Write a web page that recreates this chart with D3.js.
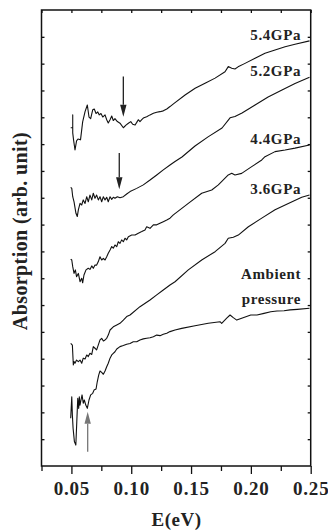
<!DOCTYPE html>
<html lang="en">
<head>
<meta charset="UTF-8">
<title>Absorption under pressure</title>
<style>
  body { margin: 0; background: #fff; }
  svg text {
    font-family: "Liberation Serif", "Times New Roman", serif;
    font-weight: bold;
    fill: #222;
  }
  .axis line { stroke: #111; stroke-width: 1.3; }
  .axis path { display: none; }
  .frame { fill: none; stroke: #111; stroke-width: 1.5; }
  .curve { fill: none; stroke: #111; stroke-width: 1.1; stroke-linejoin: round; }
</style>
</head>
<body>
<div id="chart"></div>
<script src="https://cdnjs.cloudflare.com/ajax/libs/d3/7.8.5/d3.min.js"></script>
<script>
// photon energy (eV) and absorption (arb. unit, one unit = one y tick) for each spectrum
var e54 = [0.0494, 0.0511, 0.0511, 0.0511, 0.0518, 0.0530, 0.0543, 0.0555, 0.0576, 0.0594, 0.0614, 0.0633, 0.0647, 0.0661, 0.0678, 0.0691, 0.0706, 0.0720, 0.0733, 0.0747, 0.0762, 0.0781, 0.0795, 0.0808, 0.0823, 0.0837, 0.0850, 0.0864, 0.0884, 0.0906, 0.0934, 0.0956, 0.0976, 0.0996, 0.1012, 0.1032, 0.1046, 0.1059, 0.1073, 0.1088, 0.1101, 0.1129, 0.1157, 0.1185, 0.1213, 0.1240, 0.1268, 0.1297, 0.1324, 0.1358, 0.1450, 0.1534, 0.1617, 0.1701, 0.1784, 0.1811, 0.1840, 0.1867, 0.1893, 0.1951, 0.2035, 0.2118, 0.2202, 0.2286, 0.2369, 0.2490];
var a54 = [12.61, 12.61, 13.09, 12.42, 12.16, 11.78, 12.12, 12.19, 12.16, 12.83, 13.21, 13.46, 13.01, 12.95, 13.28, 13.31, 13.14, 13.20, 13.09, 13.14, 13.01, 13.09, 12.91, 12.79, 12.91, 13.05, 12.88, 12.95, 12.84, 12.78, 12.61, 12.71, 12.78, 12.84, 12.74, 12.71, 12.81, 12.91, 12.84, 12.91, 12.97, 13.02, 13.09, 13.15, 13.19, 13.21, 13.24, 13.31, 13.40, 13.52, 13.83, 14.08, 14.27, 14.46, 14.70, 14.89, 14.83, 14.80, 14.88, 15.01, 15.20, 15.39, 15.51, 15.63, 15.72, 15.85];

var e52 = [0.0494, 0.0503, 0.0511, 0.0522, 0.0538, 0.0549, 0.0558, 0.0572, 0.0586, 0.0599, 0.0614, 0.0628, 0.0641, 0.0655, 0.0670, 0.0683, 0.0697, 0.0711, 0.0725, 0.0739, 0.0753, 0.0767, 0.0781, 0.0795, 0.0808, 0.0823, 0.0837, 0.0850, 0.0864, 0.0884, 0.0906, 0.0934, 0.0962, 0.0990, 0.1046, 0.1101, 0.1157, 0.1213, 0.1268, 0.1324, 0.1366, 0.1424, 0.1533, 0.1642, 0.1759, 0.1826, 0.1867, 0.1926, 0.2035, 0.2144, 0.2260, 0.2369, 0.2490];
var a52 = [10.39, 10.35, 10.04, 9.85, 9.42, 9.30, 9.55, 9.79, 9.73, 9.92, 9.79, 10.04, 9.85, 10.10, 9.92, 10.17, 9.98, 10.10, 9.92, 10.04, 9.85, 10.04, 9.92, 10.02, 9.85, 10.04, 9.94, 10.02, 9.98, 10.04, 10.00, 10.04, 10.14, 10.23, 10.35, 10.48, 10.66, 10.85, 11.04, 11.22, 11.35, 11.52, 11.93, 12.27, 12.60, 12.98, 13.03, 13.16, 13.46, 13.76, 14.02, 14.26, 14.49];

var e44 = [0.0494, 0.0503, 0.0511, 0.0522, 0.0533, 0.0543, 0.0558, 0.0572, 0.0586, 0.0594, 0.0605, 0.0622, 0.0641, 0.0655, 0.0670, 0.0683, 0.0697, 0.0711, 0.0725, 0.0739, 0.0753, 0.0767, 0.0781, 0.0795, 0.0808, 0.0823, 0.0837, 0.0850, 0.0864, 0.0879, 0.0892, 0.0906, 0.0920, 0.0934, 0.0948, 0.0962, 0.0976, 0.1004, 0.1032, 0.1059, 0.1088, 0.1115, 0.1129, 0.1157, 0.1185, 0.1213, 0.1240, 0.1268, 0.1297, 0.1324, 0.1352, 0.1477, 0.1589, 0.1673, 0.1728, 0.1811, 0.1840, 0.1867, 0.1923, 0.2007, 0.2091, 0.2118, 0.2202, 0.2286, 0.2369, 0.2490];
var a44 = [7.71, 7.68, 7.43, 7.18, 7.31, 7.06, 7.18, 6.87, 7.00, 6.83, 7.12, 7.31, 7.37, 7.33, 7.46, 7.37, 7.49, 7.49, 7.62, 7.80, 7.68, 7.74, 7.68, 7.80, 7.93, 8.05, 8.18, 8.12, 8.24, 8.18, 8.36, 8.30, 8.43, 8.36, 8.49, 8.43, 8.55, 8.61, 8.61, 8.68, 8.74, 8.80, 8.92, 8.86, 8.99, 8.99, 9.05, 9.11, 9.17, 9.24, 9.36, 9.79, 10.17, 10.29, 10.48, 10.85, 10.91, 10.85, 10.91, 11.16, 11.41, 11.53, 11.72, 11.78, 11.85, 11.97];

var e36 = [0.0494, 0.0508, 0.0516, 0.0522, 0.0530, 0.0543, 0.0558, 0.0572, 0.0586, 0.0599, 0.0614, 0.0628, 0.0641, 0.0655, 0.0670, 0.0683, 0.0697, 0.0711, 0.0739, 0.0753, 0.0767, 0.0781, 0.0795, 0.0808, 0.0823, 0.0850, 0.0879, 0.0906, 0.0934, 0.0962, 0.0990, 0.1073, 0.1157, 0.1213, 0.1268, 0.1324, 0.1366, 0.1477, 0.1589, 0.1701, 0.1784, 0.1811, 0.1853, 0.1895, 0.1979, 0.2091, 0.2202, 0.2313, 0.2425, 0.2490];
var a36 = [4.57, 4.51, 3.77, 3.89, 3.83, 3.95, 3.89, 3.95, 3.83, 4.02, 3.99, 4.14, 4.08, 4.20, 4.16, 4.45, 4.39, 4.33, 4.70, 4.76, 4.66, 4.70, 4.76, 4.88, 5.07, 5.19, 5.26, 5.32, 5.44, 5.57, 5.63, 5.94, 6.19, 6.38, 6.56, 6.75, 6.87, 7.31, 7.68, 7.99, 8.30, 8.49, 8.53, 8.61, 8.92, 9.24, 9.55, 9.79, 10.02, 10.10];

var eAmb = [0.0494, 0.0503, 0.0508, 0.0514, 0.0525, 0.0537, 0.0545, 0.0553, 0.0561, 0.0566, 0.0572, 0.0580, 0.0589, 0.0599, 0.0608, 0.0620, 0.0633, 0.0647, 0.0661, 0.0678, 0.0689, 0.0706, 0.0716, 0.0728, 0.0739, 0.0753, 0.0767, 0.0781, 0.0795, 0.0808, 0.0823, 0.0837, 0.0850, 0.0864, 0.0879, 0.0906, 0.0934, 0.0962, 0.0990, 0.1017, 0.1046, 0.1073, 0.1101, 0.1129, 0.1157, 0.1185, 0.1213, 0.1241, 0.1268, 0.1297, 0.1324, 0.1366, 0.1422, 0.1533, 0.1644, 0.1742, 0.1756, 0.1798, 0.1826, 0.1853, 0.1882, 0.1923, 0.1999, 0.2051, 0.2110, 0.2166, 0.2218, 0.2277, 0.2327, 0.2388, 0.2490];
var aAmb = [1.78, 2.58, 1.90, 1.41, 0.91, 0.78, 1.65, 2.52, 2.15, 2.58, 2.27, 2.46, 2.65, 2.34, 2.46, 2.27, 2.15, 2.46, 2.65, 2.71, 2.83, 2.87, 3.14, 3.39, 3.54, 3.49, 3.42, 3.54, 3.70, 3.83, 4.02, 4.14, 4.20, 4.26, 4.36, 4.45, 4.49, 4.54, 4.57, 4.63, 4.63, 4.70, 4.74, 4.76, 4.78, 4.82, 4.88, 4.86, 4.91, 4.95, 5.01, 5.07, 5.13, 5.23, 5.32, 5.38, 5.32, 5.51, 5.63, 5.53, 5.44, 5.51, 5.63, 5.63, 5.69, 5.75, 5.78, 5.79, 5.82, 5.84, 5.88];

var curveE = [e54, e52, e44, e36, eAmb];
var curveA = [a54, a52, a44, a36, aAmb];

// curve labels: text lines, anchor energy (right end), baseline absorption
var labelText = [["5.4GPa"], ["5.2GPa"], ["4.4GPa"], ["3.6GPa"], ["Ambient", "pressure"]];
var labelE = [0.2419, 0.2419, 0.2419, 0.2419, 0.2419];
var labelA = [[15.88], [14.54], [12.01], [10.14], [6.97, 6.04]];

// arrows marking the absorption edge
var arrowE = [0.0934, 0.0900, 0.0636];
var arrowFrom = [14.52, 11.67, 0.53];
var arrowTo = [13.02, 10.32, 2.02];
var arrowColor = ["#222", "#222", "#777"];

var xMajor = [0.05, 0.10, 0.15, 0.20, 0.25];
var xMinor = [0.025, 0.075, 0.125, 0.175, 0.225];
var yTicks = d3.range(1, 17);

var W = 328, H = 532;
var margin = { top: 10, right: 17.3, bottom: 66, left: 41.5 };

var svg = d3.select("#chart").append("svg")
  .attr("width", W)
  .attr("height", H);

var x = d3.scaleLinear().domain([0.025, 0.25]).range([margin.left, W - margin.right]);
var y = d3.scaleLinear().domain([0, 17]).range([H - margin.bottom, margin.top]);

// bottom axis: major ticks with labels, minor ticks shorter
var gx = svg.append("g").attr("class", "axis")
  .attr("transform", "translate(0," + y(0) + ")")
  .call(d3.axisBottom(x).tickValues(xMajor).tickSize(8).tickSizeOuter(0).tickPadding(8)
    .tickFormat(d3.format(".2f")));
gx.selectAll("text").attr("font-size", 19).attr("letter-spacing", 0.8).attr("fill", "#222");

svg.append("g").attr("class", "axis")
  .attr("transform", "translate(0," + y(0) + ")")
  .call(d3.axisBottom(x).tickValues(xMinor).tickSize(5).tickSizeOuter(0).tickFormat(""));

// inward ticks on the other three sides
svg.append("g").attr("class", "axis")
  .attr("transform", "translate(0," + y(17) + ")")
  .call(d3.axisTop(x).tickValues(xMajor.concat(xMinor)).tickSize(-3).tickSizeOuter(0).tickFormat(""));

svg.append("g").attr("class", "axis")
  .attr("transform", "translate(" + x(0.025) + ",0)")
  .call(d3.axisLeft(y).tickValues(yTicks).tickSize(-3).tickSizeOuter(0).tickFormat(""));

svg.append("g").attr("class", "axis")
  .attr("transform", "translate(" + x(0.25) + ",0)")
  .call(d3.axisRight(y).tickValues(yTicks).tickSize(-3).tickSizeOuter(0).tickFormat(""));

svg.append("rect").attr("class", "frame")
  .attr("x", x(0.025)).attr("y", y(17))
  .attr("width", x(0.25) - x(0.025))
  .attr("height", y(0) - y(17));

// spectra
var line = d3.line()
  .x(function (d) { return x(d[0]); })
  .y(function (d) { return y(d[1]); });

svg.append("g").selectAll("path")
  .data(curveE.map(function (es, i) {
    return es.map(function (e, j) { return [e, curveA[i][j]]; });
  }))
  .enter().append("path")
  .attr("class", "curve")
  .attr("d", line);

// labels
labelText.forEach(function (lines, i) {
  lines.forEach(function (t, k) {
    svg.append("text")
      .attr("x", x(labelE[i]))
      .attr("y", y(labelA[i][k]))
      .attr("text-anchor", "end")
      .attr("font-size", 15)
      .attr("letter-spacing", 0.6)
      .text(t);
  });
});

// arrows
arrowE.forEach(function (e, i) {
  var ax = x(e), y0 = y(arrowFrom[i]), y1 = y(arrowTo[i]);
  var dir = y1 > y0 ? 1 : -1;
  var head = 12, half = 3.2;
  svg.append("line")
    .attr("x1", ax).attr("x2", ax)
    .attr("y1", y0).attr("y2", y1 - dir * head)
    .attr("stroke", arrowColor[i]).attr("stroke-width", 1.3);
  svg.append("path")
    .attr("d", "M" + ax + "," + y1 + "L" + (ax - half) + "," + (y1 - dir * head) +
      "L" + (ax + half) + "," + (y1 - dir * head) + "Z")
    .attr("fill", arrowColor[i]);
});

// axis titles
svg.append("text")
  .attr("x", (x(0.025) + x(0.25)) / 2 + 0.5)
  .attr("y", 526)
  .attr("text-anchor", "middle")
  .attr("font-size", 19)
  .attr("letter-spacing", 0.5)
  .text("E(eV)");

svg.append("text")
  .attr("transform", "translate(27," + 231 + ") rotate(-90)")
  .attr("text-anchor", "middle")
  .attr("font-size", 20)
  .attr("letter-spacing", 0.4)
  .text("Absorption (arb. unit)");
</script>
</body>
</html>
